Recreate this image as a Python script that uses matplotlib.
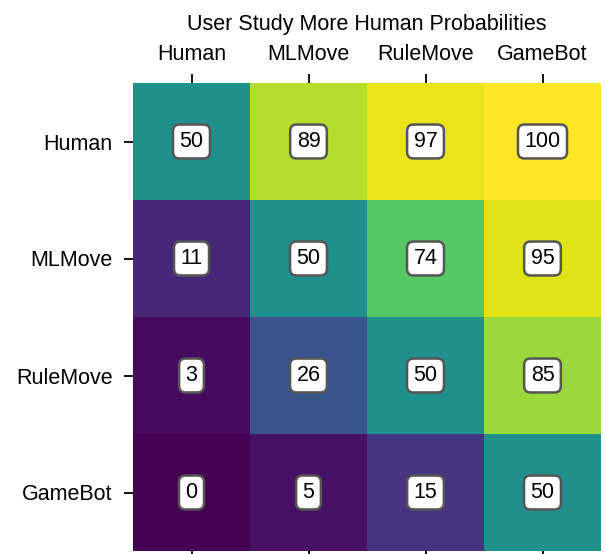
import numpy as np
import matplotlib
matplotlib.use("Agg")
import matplotlib.pyplot as plt

plt.rcParams['font.family'] = ['Liberation Sans', 'DejaVu Sans']

players = ["Human", "MLMove", "RuleMove", "GameBot"]
human_row = [50, 89, 97, 100]
mlmove_row = [11, 50, 74, 95]
rulemove_row = [3, 26, 50, 85]
gamebot_row = [0, 5, 15, 50]

values = np.array([human_row, mlmove_row, rulemove_row, gamebot_row])

fig = plt.figure(figsize=(6.06, 5.54), dpi=100)
ax = fig.add_axes([133 / 606, 3 / 554, 468 / 606, 468 / 554])
ax.imshow(values, cmap="viridis", vmin=0, vmax=100, aspect="auto")

for i in range(len(players)):
    for j in range(len(players)):
        ax.text(j, i, str(values[i, j]), ha="center", va="center", fontsize=15.5,
                bbox=dict(boxstyle="round,pad=0.3", fc="white", ec="#555555", lw=1.8))

ax.set_xticks(range(len(players)))
ax.set_yticks(range(len(players)))
ax.set_xticklabels(players, fontsize=15.5)
ax.set_yticklabels(players, fontsize=15.5)
ax.tick_params(axis="x", top=True, bottom=True, labeltop=True, labelbottom=False,
               length=6.5, width=1.3, pad=6.5)
ax.tick_params(axis="y", length=6.5, width=1.3, pad=8)
for s in ax.spines.values():
    s.set_visible(False)
ax.set_title("User Study More Human Probabilities", fontsize=15.5, pad=10)

fig.savefig("out.png", dpi=100)
